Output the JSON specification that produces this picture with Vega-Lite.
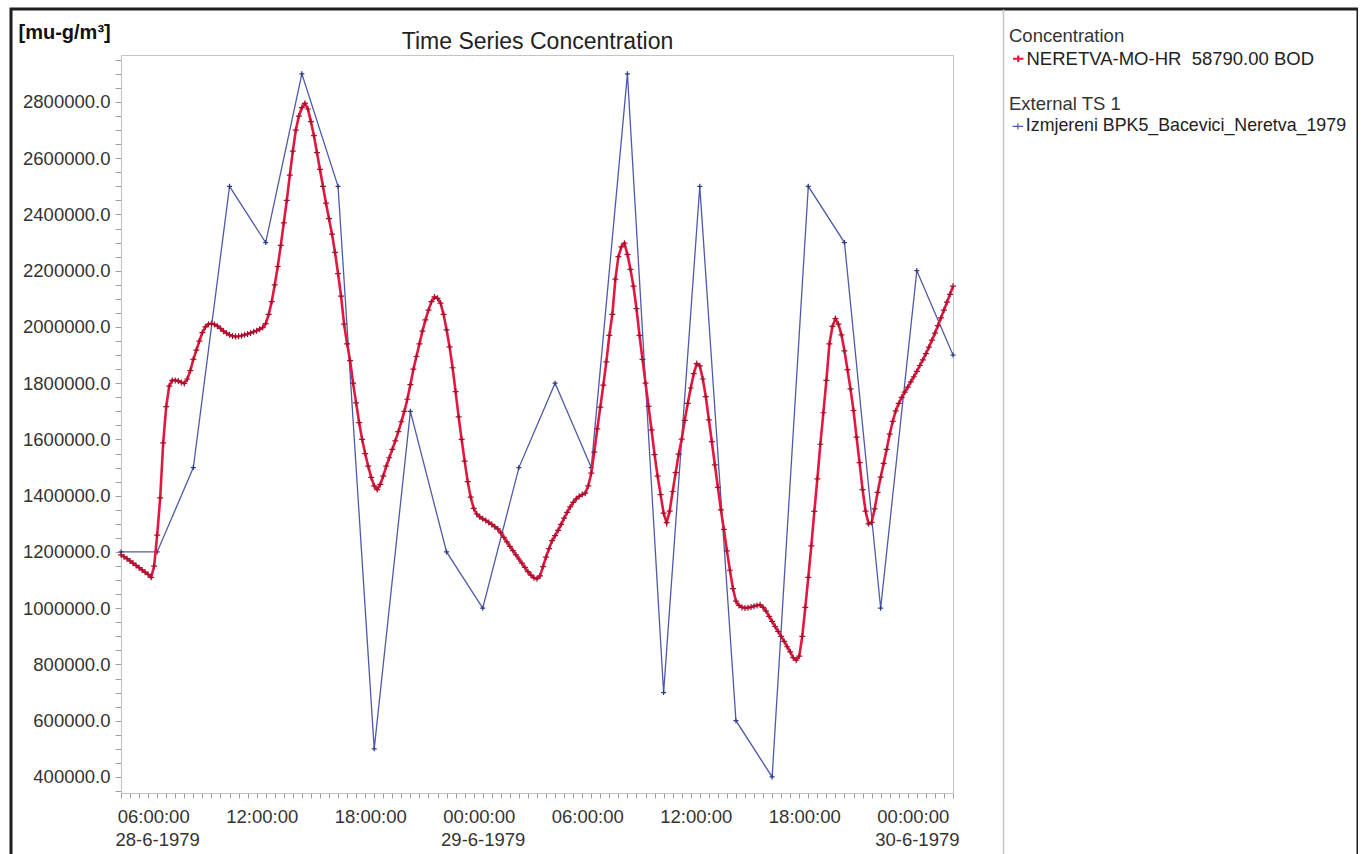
{
  "$schema": "https://vega.github.io/schema/vega-lite/v6.json",
  "width": 1347,
  "height": 850,
  "autosize": {"type": "none"},
  "padding": {"left": 11, "top": 9, "right": 0, "bottom": 0},
  "background": "white",
  "config": {
    "font": "Liberation Sans",
    "view": {"stroke": "#1e1e1e", "strokeWidth": 3},
    "axis": {
      "grid": false,
      "labelFont": "Liberation Sans",
      "labelFontSize": 18.5,
      "labelColor": "#333333",
      "tickColor": "#a0a0a0",
      "domainColor": "#c0c0c0",
      "titleFont": "Liberation Sans"
    },
    "legend": {"padding": 0}
  },
  "datasets": {
    "conc": [
      {"t":"1979-06-28T04:00","v":1190000},{"t":"1979-06-28T04:10","v":1183000},{"t":"1979-06-28T04:20","v":1176000},{"t":"1979-06-28T04:30","v":1168000},{"t":"1979-06-28T04:40","v":1160000},{"t":"1979-06-28T04:50","v":1152000},
      {"t":"1979-06-28T05:00","v":1144000},{"t":"1979-06-28T05:10","v":1136000},{"t":"1979-06-28T05:20","v":1128000},{"t":"1979-06-28T05:30","v":1120000},{"t":"1979-06-28T05:40","v":1110000},{"t":"1979-06-28T05:50","v":1150000},
      {"t":"1979-06-28T06:00","v":1260000},{"t":"1979-06-28T06:10","v":1392000},{"t":"1979-06-28T06:20","v":1588000},{"t":"1979-06-28T06:30","v":1717000},{"t":"1979-06-28T06:40","v":1790000},{"t":"1979-06-28T06:50","v":1810000},
      {"t":"1979-06-28T07:00","v":1810000},{"t":"1979-06-28T07:10","v":1808000},{"t":"1979-06-28T07:20","v":1803000},{"t":"1979-06-28T07:30","v":1799000},{"t":"1979-06-28T07:40","v":1815000},{"t":"1979-06-28T07:50","v":1845000},
      {"t":"1979-06-28T08:00","v":1885000},{"t":"1979-06-28T08:10","v":1918000},{"t":"1979-06-28T08:20","v":1950000},{"t":"1979-06-28T08:30","v":1980000},{"t":"1979-06-28T08:40","v":2000000},{"t":"1979-06-28T08:50","v":2010000},
      {"t":"1979-06-28T09:00","v":2012000},{"t":"1979-06-28T09:10","v":2009000},{"t":"1979-06-28T09:20","v":2003000},{"t":"1979-06-28T09:30","v":1995000},{"t":"1979-06-28T09:40","v":1985000},{"t":"1979-06-28T09:50","v":1978000},
      {"t":"1979-06-28T10:00","v":1972000},{"t":"1979-06-28T10:10","v":1968000},{"t":"1979-06-28T10:20","v":1966000},{"t":"1979-06-28T10:30","v":1967000},{"t":"1979-06-28T10:40","v":1969000},{"t":"1979-06-28T10:50","v":1972000},
      {"t":"1979-06-28T11:00","v":1975000},{"t":"1979-06-28T11:10","v":1979000},{"t":"1979-06-28T11:20","v":1983000},{"t":"1979-06-28T11:30","v":1987000},{"t":"1979-06-28T11:40","v":1992000},{"t":"1979-06-28T11:50","v":1998000},
      {"t":"1979-06-28T12:00","v":2012000},{"t":"1979-06-28T12:10","v":2045000},{"t":"1979-06-28T12:20","v":2090000},{"t":"1979-06-28T12:30","v":2150000},{"t":"1979-06-28T12:40","v":2215000},{"t":"1979-06-28T12:50","v":2290000},
      {"t":"1979-06-28T13:00","v":2370000},{"t":"1979-06-28T13:10","v":2450000},{"t":"1979-06-28T13:20","v":2540000},{"t":"1979-06-28T13:30","v":2625000},{"t":"1979-06-28T13:40","v":2700000},{"t":"1979-06-28T13:50","v":2750000},
      {"t":"1979-06-28T14:00","v":2780000},{"t":"1979-06-28T14:10","v":2795000},{"t":"1979-06-28T14:20","v":2775000},{"t":"1979-06-28T14:30","v":2730000},{"t":"1979-06-28T14:40","v":2680000},{"t":"1979-06-28T14:50","v":2620000},
      {"t":"1979-06-28T15:00","v":2560000},{"t":"1979-06-28T15:10","v":2500000},{"t":"1979-06-28T15:20","v":2440000},{"t":"1979-06-28T15:30","v":2385000},{"t":"1979-06-28T15:40","v":2330000},{"t":"1979-06-28T15:50","v":2265000},
      {"t":"1979-06-28T16:00","v":2190000},{"t":"1979-06-28T16:10","v":2110000},{"t":"1979-06-28T16:20","v":2010000},{"t":"1979-06-28T16:30","v":1940000},{"t":"1979-06-28T16:40","v":1880000},{"t":"1979-06-28T16:50","v":1800000},
      {"t":"1979-06-28T17:00","v":1730000},{"t":"1979-06-28T17:10","v":1660000},{"t":"1979-06-28T17:20","v":1600000},{"t":"1979-06-28T17:30","v":1550000},{"t":"1979-06-28T17:40","v":1505000},{"t":"1979-06-28T17:50","v":1465000},
      {"t":"1979-06-28T18:00","v":1435000},{"t":"1979-06-28T18:10","v":1422000},{"t":"1979-06-28T18:20","v":1440000},{"t":"1979-06-28T18:30","v":1470000},{"t":"1979-06-28T18:40","v":1505000},{"t":"1979-06-28T18:50","v":1535000},
      {"t":"1979-06-28T19:00","v":1565000},{"t":"1979-06-28T19:10","v":1595000},{"t":"1979-06-28T19:20","v":1628000},{"t":"1979-06-28T19:30","v":1663000},{"t":"1979-06-28T19:40","v":1700000},{"t":"1979-06-28T19:50","v":1743000},
      {"t":"1979-06-28T20:00","v":1795000},{"t":"1979-06-28T20:10","v":1850000},{"t":"1979-06-28T20:20","v":1895000},{"t":"1979-06-28T20:30","v":1940000},{"t":"1979-06-28T20:40","v":1985000},{"t":"1979-06-28T20:50","v":2025000},
      {"t":"1979-06-28T21:00","v":2060000},{"t":"1979-06-28T21:10","v":2090000},{"t":"1979-06-28T21:20","v":2107000},{"t":"1979-06-28T21:30","v":2102000},{"t":"1979-06-28T21:40","v":2085000},{"t":"1979-06-28T21:50","v":2045000},
      {"t":"1979-06-28T22:00","v":1990000},{"t":"1979-06-28T22:10","v":1929000},{"t":"1979-06-28T22:20","v":1855000},{"t":"1979-06-28T22:30","v":1770000},{"t":"1979-06-28T22:40","v":1680000},{"t":"1979-06-28T22:50","v":1600000},
      {"t":"1979-06-28T23:00","v":1523000},{"t":"1979-06-28T23:10","v":1450000},{"t":"1979-06-28T23:20","v":1395000},{"t":"1979-06-28T23:30","v":1355000},{"t":"1979-06-28T23:40","v":1335000},{"t":"1979-06-28T23:50","v":1325000},
      {"t":"1979-06-29T00:00","v":1318000},{"t":"1979-06-29T00:10","v":1312000},{"t":"1979-06-29T00:20","v":1305000},{"t":"1979-06-29T00:30","v":1298000},{"t":"1979-06-29T00:40","v":1290000},{"t":"1979-06-29T00:50","v":1282000},
      {"t":"1979-06-29T01:00","v":1268000},{"t":"1979-06-29T01:10","v":1252000},{"t":"1979-06-29T01:20","v":1236000},{"t":"1979-06-29T01:30","v":1220000},{"t":"1979-06-29T01:40","v":1205000},{"t":"1979-06-29T01:50","v":1190000},
      {"t":"1979-06-29T02:00","v":1175000},{"t":"1979-06-29T02:10","v":1160000},{"t":"1979-06-29T02:20","v":1145000},{"t":"1979-06-29T02:30","v":1130000},{"t":"1979-06-29T02:40","v":1118000},{"t":"1979-06-29T02:50","v":1108000},
      {"t":"1979-06-29T03:00","v":1105000},{"t":"1979-06-29T03:10","v":1115000},{"t":"1979-06-29T03:20","v":1148000},{"t":"1979-06-29T03:30","v":1182000},{"t":"1979-06-29T03:40","v":1212000},{"t":"1979-06-29T03:50","v":1240000},
      {"t":"1979-06-29T04:00","v":1258000},{"t":"1979-06-29T04:10","v":1277000},{"t":"1979-06-29T04:20","v":1298000},{"t":"1979-06-29T04:30","v":1320000},{"t":"1979-06-29T04:40","v":1341000},{"t":"1979-06-29T04:50","v":1360000},
      {"t":"1979-06-29T05:00","v":1376000},{"t":"1979-06-29T05:10","v":1389000},{"t":"1979-06-29T05:20","v":1398000},{"t":"1979-06-29T05:30","v":1404000},{"t":"1979-06-29T05:40","v":1409000},{"t":"1979-06-29T05:50","v":1435000},
      {"t":"1979-06-29T06:00","v":1480000},{"t":"1979-06-29T06:10","v":1555000},{"t":"1979-06-29T06:20","v":1638000},{"t":"1979-06-29T06:30","v":1715000},{"t":"1979-06-29T06:40","v":1793000},{"t":"1979-06-29T06:50","v":1876000},
      {"t":"1979-06-29T07:00","v":1970000},{"t":"1979-06-29T07:10","v":2045000},{"t":"1979-06-29T07:20","v":2170000},{"t":"1979-06-29T07:30","v":2250000},{"t":"1979-06-29T07:40","v":2285000},{"t":"1979-06-29T07:50","v":2298000},
      {"t":"1979-06-29T08:00","v":2258000},{"t":"1979-06-29T08:10","v":2205000},{"t":"1979-06-29T08:20","v":2145000},{"t":"1979-06-29T08:30","v":2065000},{"t":"1979-06-29T08:40","v":1970000},{"t":"1979-06-29T08:50","v":1885000},
      {"t":"1979-06-29T09:00","v":1800000},{"t":"1979-06-29T09:10","v":1718000},{"t":"1979-06-29T09:20","v":1634000},{"t":"1979-06-29T09:30","v":1546000},{"t":"1979-06-29T09:40","v":1470000},{"t":"1979-06-29T09:50","v":1404000},
      {"t":"1979-06-29T10:00","v":1338000},{"t":"1979-06-29T10:10","v":1304000},{"t":"1979-06-29T10:20","v":1345000},{"t":"1979-06-29T10:30","v":1415000},{"t":"1979-06-29T10:40","v":1482000},{"t":"1979-06-29T10:50","v":1548000},
      {"t":"1979-06-29T11:00","v":1601000},{"t":"1979-06-29T11:10","v":1668000},{"t":"1979-06-29T11:20","v":1728000},{"t":"1979-06-29T11:30","v":1783000},{"t":"1979-06-29T11:40","v":1834000},{"t":"1979-06-29T11:50","v":1870000},
      {"t":"1979-06-29T12:00","v":1862000},{"t":"1979-06-29T12:10","v":1815000},{"t":"1979-06-29T12:20","v":1752000},{"t":"1979-06-29T12:30","v":1670000},{"t":"1979-06-29T12:40","v":1592000},{"t":"1979-06-29T12:50","v":1510000},
      {"t":"1979-06-29T13:00","v":1430000},{"t":"1979-06-29T13:10","v":1350000},{"t":"1979-06-29T13:20","v":1280000},{"t":"1979-06-29T13:30","v":1204000},{"t":"1979-06-29T13:40","v":1135000},{"t":"1979-06-29T13:50","v":1070000},
      {"t":"1979-06-29T14:00","v":1025000},{"t":"1979-06-29T14:10","v":1010000},{"t":"1979-06-29T14:20","v":1003000},{"t":"1979-06-29T14:30","v":1001000},{"t":"1979-06-29T14:40","v":1002000},{"t":"1979-06-29T14:50","v":1004000},
      {"t":"1979-06-29T15:00","v":1007000},{"t":"1979-06-29T15:10","v":1010000},{"t":"1979-06-29T15:20","v":1012000},{"t":"1979-06-29T15:30","v":1003000},{"t":"1979-06-29T15:40","v":990000},{"t":"1979-06-29T15:50","v":971000},
      {"t":"1979-06-29T16:00","v":953000},{"t":"1979-06-29T16:10","v":935000},{"t":"1979-06-29T16:20","v":918000},{"t":"1979-06-29T16:30","v":900000},{"t":"1979-06-29T16:40","v":882000},{"t":"1979-06-29T16:50","v":863000},
      {"t":"1979-06-29T17:00","v":845000},{"t":"1979-06-29T17:10","v":824000},{"t":"1979-06-29T17:20","v":815000},{"t":"1979-06-29T17:30","v":830000},{"t":"1979-06-29T17:40","v":900000},{"t":"1979-06-29T17:50","v":1003000},
      {"t":"1979-06-29T18:00","v":1110000},{"t":"1979-06-29T18:10","v":1222000},{"t":"1979-06-29T18:20","v":1344000},{"t":"1979-06-29T18:30","v":1460000},{"t":"1979-06-29T18:40","v":1583000},{"t":"1979-06-29T18:50","v":1695000},
      {"t":"1979-06-29T19:00","v":1810000},{"t":"1979-06-29T19:10","v":1940000},{"t":"1979-06-29T19:20","v":2002000},{"t":"1979-06-29T19:30","v":2030000},{"t":"1979-06-29T19:40","v":2010000},{"t":"1979-06-29T19:50","v":1972000},
      {"t":"1979-06-29T20:00","v":1915000},{"t":"1979-06-29T20:10","v":1848000},{"t":"1979-06-29T20:20","v":1780000},{"t":"1979-06-29T20:30","v":1703000},{"t":"1979-06-29T20:40","v":1608000},{"t":"1979-06-29T20:50","v":1518000},
      {"t":"1979-06-29T21:00","v":1422000},{"t":"1979-06-29T21:10","v":1345000},{"t":"1979-06-29T21:20","v":1300000},{"t":"1979-06-29T21:30","v":1305000},{"t":"1979-06-29T21:40","v":1353000},{"t":"1979-06-29T21:50","v":1412000},
      {"t":"1979-06-29T22:00","v":1466000},{"t":"1979-06-29T22:10","v":1515000},{"t":"1979-06-29T22:20","v":1565000},{"t":"1979-06-29T22:30","v":1619000},{"t":"1979-06-29T22:40","v":1664000},{"t":"1979-06-29T22:50","v":1702000},
      {"t":"1979-06-29T23:00","v":1728000},{"t":"1979-06-29T23:10","v":1750000},{"t":"1979-06-29T23:20","v":1768000},{"t":"1979-06-29T23:30","v":1786000},{"t":"1979-06-29T23:40","v":1805000},{"t":"1979-06-29T23:50","v":1823000},
      {"t":"1979-06-30T00:00","v":1842000},{"t":"1979-06-30T00:10","v":1863000},{"t":"1979-06-30T00:20","v":1883000},{"t":"1979-06-30T00:30","v":1905000},{"t":"1979-06-30T00:40","v":1928000},{"t":"1979-06-30T00:50","v":1953000},
      {"t":"1979-06-30T01:00","v":1978000},{"t":"1979-06-30T01:10","v":2005000},{"t":"1979-06-30T01:20","v":2032000},{"t":"1979-06-30T01:30","v":2060000},{"t":"1979-06-30T01:40","v":2088000},{"t":"1979-06-30T01:50","v":2116000},
      {"t":"1979-06-30T02:00","v":2145000}
    ],
    "ext": [
      {"t":"1979-06-28T04:00","v":1200000},{"t":"1979-06-28T06:00","v":1200000},{"t":"1979-06-28T08:00","v":1500000},{"t":"1979-06-28T10:00","v":2500000},
      {"t":"1979-06-28T12:00","v":2300000},{"t":"1979-06-28T14:00","v":2900000},{"t":"1979-06-28T16:00","v":2500000},{"t":"1979-06-28T18:00","v":500000},
      {"t":"1979-06-28T20:00","v":1700000},{"t":"1979-06-28T22:00","v":1200000},{"t":"1979-06-29T00:00","v":1000000},{"t":"1979-06-29T02:00","v":1500000},
      {"t":"1979-06-29T04:00","v":1800000},{"t":"1979-06-29T06:00","v":1500000},{"t":"1979-06-29T08:00","v":2900000},{"t":"1979-06-29T10:00","v":700000},
      {"t":"1979-06-29T12:00","v":2500000},{"t":"1979-06-29T14:00","v":600000},{"t":"1979-06-29T16:00","v":400000},{"t":"1979-06-29T18:00","v":2500000},
      {"t":"1979-06-29T20:00","v":2300000},{"t":"1979-06-29T22:00","v":1000000},{"t":"1979-06-30T00:00","v":2200000},{"t":"1979-06-30T02:00","v":1900000}
    ]
  },
  "layer": [
    {
      "data": {"name": "ext"},
      "mark": {"type": "line", "strokeWidth": 1.3},
      "encoding": {
        "x": {
          "field": "t", "type": "temporal",
          "scale": {"domain": [{"year": 1979, "month": 6, "date": 28, "hours": 4}, {"year": 1979, "month": 6, "date": 30, "hours": 2}], "range": [110, 942], "nice": false},
          "axis": {
            "orient": "bottom", "offset": -66, "title": null,
            "tickCount": 92,
            "labelExpr": "(minutes(datum.value) == 0 && hours(datum.value) % 6 == 0) ? timeFormat(datum.value, '%H:%M:%S') : ''",
            "labelOverlap": false,
            "labelPadding": 9, "labelOffset": -4,
            "tickSize": 5, "domainColor": "#c0c0c0"
          }
        },
        "y": {
          "field": "v", "type": "quantitative",
          "scale": {"domain": [343000, 2967000], "range": [784, 46], "nice": false, "zero": false},
          "axis": {
            "orient": "left", "offset": -110,
            "title": "[mu-g/m³]", "titleAngle": 0, "titleX": -103, "titleY": 29,
            "titleAlign": "left", "titleBaseline": "alphabetic",
            "titleFontWeight": "bold", "titleFontSize": 20, "titleColor": "#111111",
            "tickCount": 53,
            "labelExpr": "datum.value % 200000 == 0 ? format(datum.value, '.1f') : ''",
            "labelOverlap": false,
            "tickSize": 6, "labelPadding": 5, "domainColor": "#c0c0c0"
          }
        },
        "color": {
          "datum": "Izmjereni BPK5_Bacevici_Neretva_1979", "type": "nominal",
          "scale": {"range": ["#4f5aa6"]},
          "legend": {
            "title": "External TS 1", "orient": "none", "legendX": 998, "legendY": 86,
            "symbolType": "M-1,0H1M0,-0.6V0.6", "symbolSize": 110, "symbolStrokeWidth": 1.2,
            "titleFontSize": 18.5, "titleFontWeight": "normal", "titleColor": "#333333", "titlePadding": 4,
            "labelFontSize": 17.8, "labelColor": "#222222", "labelOffset": -1, "labelLimit": 500
          }
        }
      }
    },
    {
      "data": {"name": "ext"},
      "mark": {"type": "point", "shape": "M-1,0H1M0,-1V1", "filled": false, "size": 25, "strokeWidth": 1.2, "color": "#2f3a86", "opacity": 1},
      "encoding": {
        "x": {
          "field": "t", "type": "temporal",
          "scale": {"domain": [{"year": 1979, "month": 6, "date": 28, "hours": 4}, {"year": 1979, "month": 6, "date": 30, "hours": 4, "minutes": 46}], "range": [110, 992], "nice": false},
          "axis": {
            "orient": "bottom", "offset": 0, "title": null,
            "labels": false, "ticks": false, "domain": false,
            "grid": true, "gridColor": "#c4c4c4", "gridWidth": 1.5,
            "values": [{"year": 1979, "month": 6, "date": 30, "hours": 4, "minutes": 46}]
          }
        },
        "y": {
          "field": "v", "type": "quantitative",
          "scale": {"domain": [108333, 3130556], "range": [850, 0], "nice": false, "zero": false},
          "axis": null
        }
      }
    },
    {
      "data": {"name": "conc"},
      "mark": {"type": "line", "strokeWidth": 2.6},
      "encoding": {
        "x": {
          "field": "t", "type": "temporal",
          "scale": {"domain": [{"year": 1979, "month": 6, "date": 28, "hours": 4}, {"year": 1979, "month": 6, "date": 30, "hours": 2}], "range": [110, 942], "nice": false},
          "axis": {
            "orient": "top", "offset": -46,
            "title": "Time Series Concentration", "titleFontSize": 23, "titleFontWeight": "normal", "titleColor": "#222222", "titlePadding": 2,
            "labels": false, "ticks": false, "domain": true, "domainColor": "#c4c4c4"
          }
        },
        "y": {
          "field": "v", "type": "quantitative",
          "scale": {"domain": [343000, 2967000], "range": [784, 46], "nice": false, "zero": false},
          "axis": {"orient": "right", "offset": -405, "title": null, "labels": false, "ticks": false, "domain": true, "domainColor": "#c4c4c4"}
        },
        "color": {
          "datum": "NERETVA-MO-HR\u00a0 58790.00 BOD", "type": "nominal",
          "scale": {"range": ["#e3173f"]},
          "legend": {
            "title": "Concentration", "orient": "none", "legendX": 998, "legendY": 18,
            "symbolType": "M-1,0H1M0,-0.6V0.6", "symbolSize": 110, "symbolStrokeWidth": 2.2,
            "titleFontSize": 18.5, "titleFontWeight": "normal", "titleColor": "#333333", "titlePadding": 4,
            "labelFontSize": 18.5, "labelColor": "#222222", "labelOffset": -1, "labelLimit": 500
          }
        }
      }
    },
    {
      "data": {"name": "conc"},
      "mark": {"type": "point", "shape": "M-1,0H1M0,-1V1", "filled": false, "size": 36, "strokeWidth": 1.2, "color": "#a8102c", "opacity": 1},
      "encoding": {
        "x": {
          "field": "t", "type": "temporal",
          "scale": {"domain": [{"year": 1979, "month": 6, "date": 28, "hours": 4}, {"year": 1979, "month": 6, "date": 30, "hours": 2}], "range": [110, 942], "nice": false},
          "axis": {
            "orient": "bottom", "offset": -66, "title": null,
            "tickCount": 8, "ticks": false, "tickSize": 0, "domain": false,
            "labelExpr": "(hours(datum.value) == 0 || (date(datum.value) == 28 && hours(datum.value) == 6)) ? timeFormat(datum.value, '%-d-%-m-%Y') : ''",
            "labelOverlap": false,
            "labelPadding": 37
          }
        },
        "y": {
          "field": "v", "type": "quantitative",
          "scale": {"domain": [343000, 2967000], "range": [784, 46], "nice": false, "zero": false},
          "axis": null
        }
      }
    }
  ],
  "resolve": {
    "scale": {"x": "independent", "y": "independent", "color": "independent"},
    "axis": {"x": "independent", "y": "independent"},
    "legend": {"color": "independent"}
  }
}
